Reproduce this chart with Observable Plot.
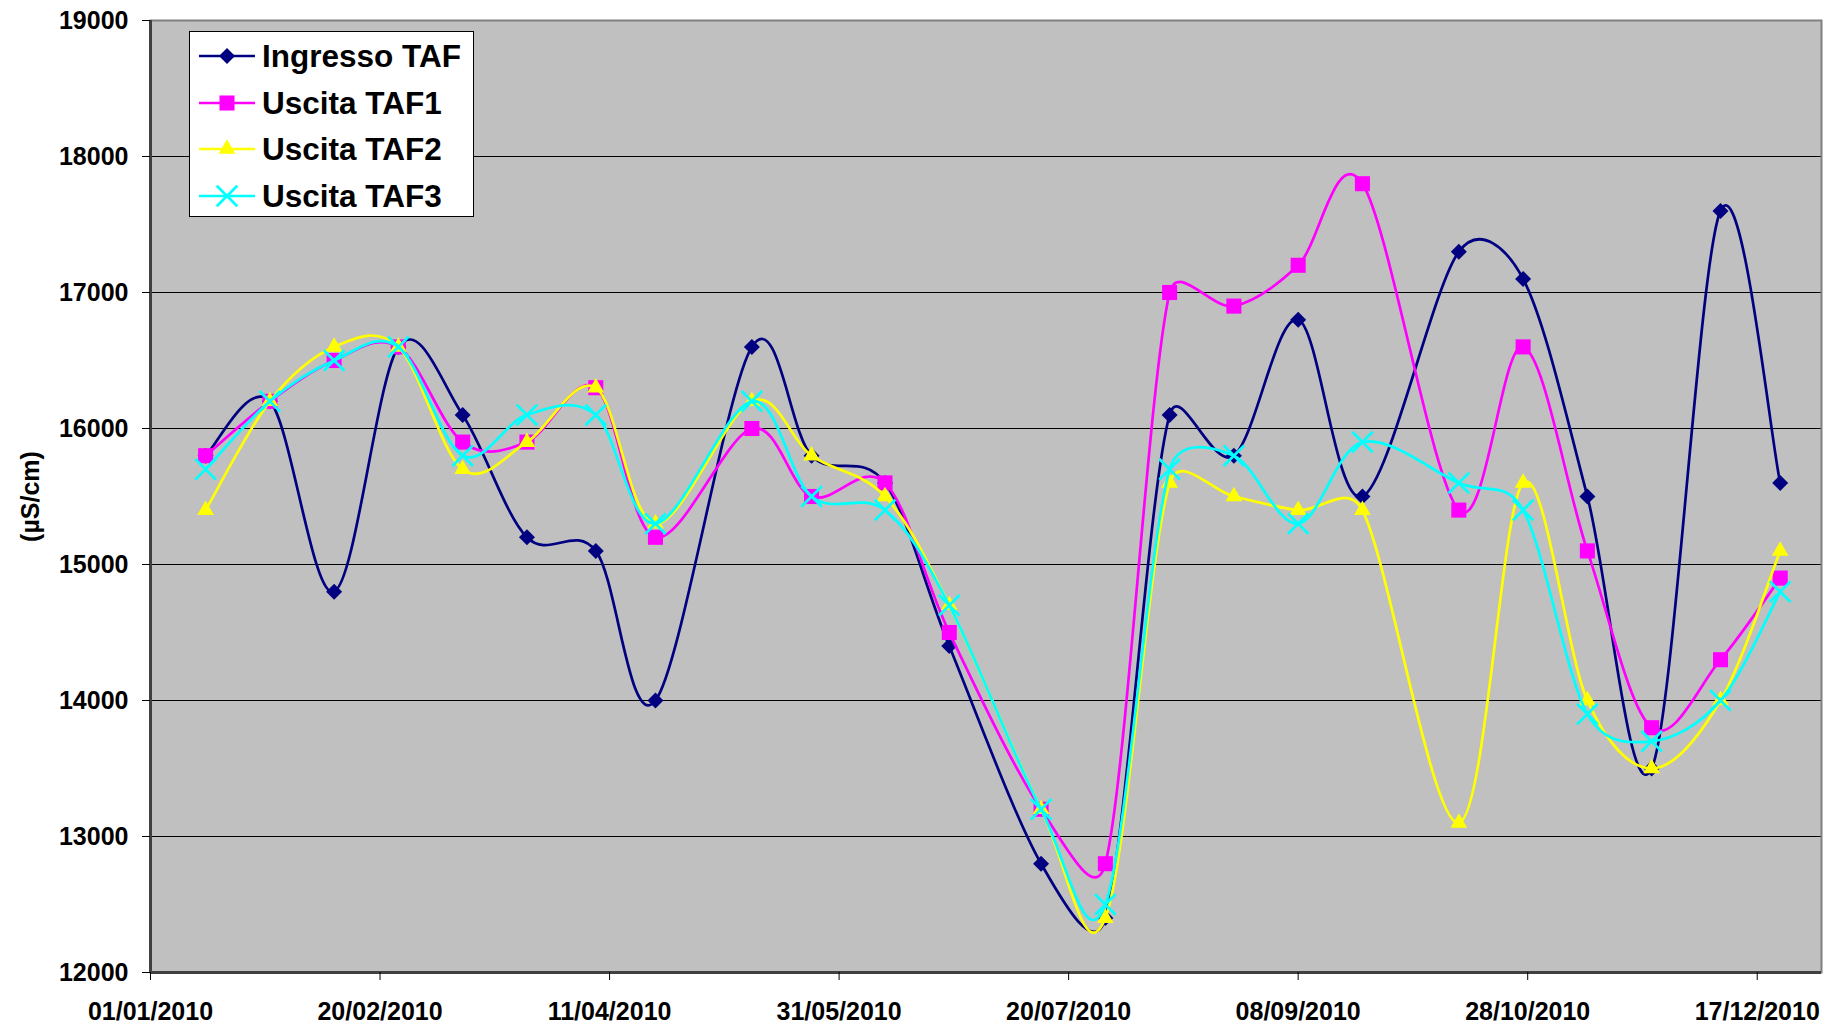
<!DOCTYPE html>
<html>
<head>
<meta charset="utf-8">
<script src="https://cdn.jsdelivr.net/npm/d3@7"></script>
<script src="https://cdn.jsdelivr.net/npm/@observablehq/plot@0.6"></script>
<style>
  html, body { margin: 0; padding: 0; background: #ffffff; }
  #wrap { position: relative; width: 1827px; height: 1026px; overflow: hidden; }
  #legend {
    position: absolute; left: 189px; top: 31px; width: 283px; height: 184px;
    background: #ffffff; border: 1.5px solid #000000; box-sizing: content-box;
    font-family: "Liberation Sans", Arial, sans-serif; font-weight: bold; font-size: 31.5px; color: #000;
  }
  .row { position: absolute; left: 0; height: 40px; display: flex; align-items: center; }
  .row svg { margin-left: 9px; margin-right: 7px; }
</style>
</head>
<body>
<div id="wrap"><div id="chart"></div><div id="legend"></div></div>
<script>
// ---- data ----
const sampleDates = ["2010-01-13","2010-01-27","2010-02-10","2010-02-24","2010-03-10","2010-03-24","2010-04-08","2010-04-21","2010-05-12","2010-05-25","2010-06-10","2010-06-24","2010-07-14","2010-07-28","2010-08-11","2010-08-25","2010-09-08","2010-09-22","2010-10-13","2010-10-27","2010-11-10","2010-11-24","2010-12-09","2010-12-22"];
const seriesNames = ["Ingresso TAF", "Uscita TAF1", "Uscita TAF2", "Uscita TAF3"];
const ingressoTAF = [15800,16200,14800,16600,16100,15200,15100,14000,16600,15800,15600,14400,12800,12400,16100,15800,16800,15500,17300,17100,15500,13500,17600,15600];
const uscitaTAF1  = [15800,16200,16500,16600,15900,15900,16300,15200,16000,15500,15600,14500,13200,12800,17000,16900,17200,17800,15400,16600,15100,13800,14300,14900];
const uscitaTAF2  = [15400,16200,16600,16600,15700,15900,16300,15300,16200,15800,15500,14700,13200,12400,15600,15500,15400,15400,13100,15600,14000,13500,14000,15100];
const uscitaTAF3  = [15700,16200,16500,16600,15800,16100,16100,15300,16200,15500,15400,14700,13200,12500,15700,15800,15300,15900,15600,15400,13900,13700,14000,14800];
const xTickLabels = ["01/01/2010","20/02/2010","11/04/2010","31/05/2010","20/07/2010","08/09/2010","28/10/2010","17/12/2010"];
const yTicks = [12000,13000,14000,15000,16000,17000,18000,19000];
const xDomainLabels = ["01/01/2010","31/12/2010"];
const yAxisLabel = "(µS/cm)";

// ---- styles ----
const colors = ["#000080", "#FF00FF", "#FFFF00", "#00FFFF"];
const symbols = ["diamond2", "square", "triangle", "times"];
const radii = [7.2, 8.5, 6.2, 9.4];

// Smoothed line similar to a spreadsheet "smoothed line": Catmull-Rom Bezier
// control points (tangent / 6), each limited to half of its segment's length.
function SmoothCurve(context) { this._context = context; }
SmoothCurve.prototype = {
  areaStart() {}, areaEnd() {},
  lineStart() { this._pts = []; },
  point(x, y) { this._pts.push([+x, +y]); },
  lineEnd() {
    const p = this._pts, n = p.length, c = this._context;
    if (!n) return;
    c.moveTo(p[0][0], p[0][1]);
    if (n === 1) return;
    const dist = (a, b) => Math.hypot(b[0] - a[0], b[1] - a[1]);
    const ctrl = (base, tx, ty, limit, sign) => {
      let vx = tx / 6, vy = ty / 6;
      const len = Math.hypot(vx, vy);
      if (len > limit && len > 0) { vx *= limit / len; vy *= limit / len; }
      return [base[0] + sign * vx, base[1] + sign * vy];
    };
    for (let i = 0; i < n - 1; i++) {
      const p0 = p[Math.max(i - 1, 0)], p1 = p[i], p2 = p[i + 1], p3 = p[Math.min(i + 2, n - 1)];
      const seg = dist(p1, p2), lim = seg * 0.5;
      const a = ctrl(p1, p2[0] - p0[0], p2[1] - p0[1], lim, 1);
      const b = ctrl(p2, p3[0] - p1[0], p3[1] - p1[1], lim, -1);
      c.bezierCurveTo(a[0], a[1], b[0], b[1], p2[0], p2[1]);
    }
  }
};
const smoothCurve = (context) => new SmoothCurve(context);

const parseDMY = d3.utcParse("%d/%m/%Y");
const parseISO = d3.utcParse("%Y-%m-%d");
const fmt = d3.utcFormat("%d/%m/%Y");
const xTicks = xTickLabels.map(parseDMY);
const xDomain = xDomainLabels.map(parseDMY);
const allValues = [ingressoTAF, uscitaTAF1, uscitaTAF2, uscitaTAF3];
const series = seriesNames.map((name, i) => sampleDates.map((d, j) => ({date: parseISO(d), value: allValues[i][j], series: name})));

const font = "'Liberation Sans', Arial, sans-serif";
const marks = [
  Plot.frame({fill: "#C0C0C0"}),
  Plot.gridY(yTicks.slice(1, -1), {stroke: "#000000", strokeOpacity: 1, strokeWidth: 1}),
];
series.forEach((data, i) => {
  marks.push(Plot.line(data, {x: "date", y: "value", stroke: colors[i], strokeWidth: 2.7, curve: smoothCurve}));
  if (symbols[i] === "times") {
    marks.push(Plot.dot(data, {x: "date", y: "value", symbol: symbols[i], r: radii[i], stroke: colors[i], strokeWidth: 2.7, fill: "none"}));
  } else {
    marks.push(Plot.dot(data, {x: "date", y: "value", symbol: symbols[i], r: radii[i], fill: colors[i], stroke: "none"}));
  }
});
marks.push(
  Plot.frame({stroke: "#808080", strokeWidth: 2}),
  Plot.ruleX([xDomain[0]], {stroke: "#404040", strokeWidth: 3}),
  Plot.ruleY([yTicks[0]], {stroke: "#404040", strokeWidth: 3}),
  Plot.axisX(xTicks, {tickFormat: fmt, tickSize: 8, tickPadding: 22, fontSize: 25, fontWeight: "bold", fontFamily: font, label: null}),
  Plot.axisY(yTicks, {tickSize: 8, tickPadding: 14, fontSize: 25, fontWeight: "bold", fontFamily: font, label: null, tickFormat: d => String(d)}),
  Plot.text([yAxisLabel], {frameAnchor: "left", dx: -120, rotate: -90, fontSize: 25, fontWeight: "bold", fontFamily: font, textAnchor: "middle", lineAnchor: "middle", fill: "#000"})
);

const chart = Plot.plot({
  width: 1827,
  height: 1026,
  marginLeft: 150,
  marginRight: 6,
  marginTop: 20,
  marginBottom: 54,
  style: {fontFamily: font, fontSize: "25px", fontWeight: "bold", background: "#ffffff", color: "#000"},
  x: {type: "utc", domain: xDomain},
  y: {domain: [yTicks[0], yTicks[yTicks.length - 1]]},
  marks
});
document.getElementById("chart").appendChild(chart);

// ---- legend (HTML overlay inside the plot area) ----
const legend = d3.select("#legend");
const rowCenters = [24, 71, 117, 164];
const symMap = {diamond2: d3.symbolDiamond2, square: d3.symbolSquare, triangle: d3.symbolTriangle, times: d3.symbolTimes};
seriesNames.forEach((name, i) => {
  const row = legend.append("div").attr("class", "row").style("top", (rowCenters[i] - 20) + "px");
  const svg = row.append("svg").attr("width", 56).attr("height", 30);
  svg.append("line").attr("x1", 0).attr("x2", 56).attr("y1", 15).attr("y2", 15).attr("stroke", colors[i]).attr("stroke-width", 2.7);
  const path = d3.symbol(symMap[symbols[i]], Math.PI * radii[i] * radii[i])();
  const p = svg.append("path").attr("d", path).attr("transform", "translate(28,15)");
  if (symbols[i] === "times") p.attr("stroke", colors[i]).attr("stroke-width", 2.7).attr("fill", "none");
  else p.attr("fill", colors[i]);
  row.append("span").text(name);
});
</script>
</body>
</html>
